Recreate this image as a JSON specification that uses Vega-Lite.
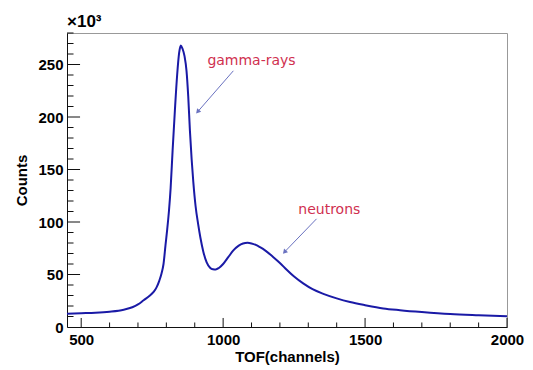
{
  "$schema": "https://vega.github.io/schema/vega-lite/v6.json",
  "width": 440,
  "height": 294,
  "autosize": {"type": "none"},
  "padding": {"left": 67, "top": 33, "right": 26, "bottom": 43},
  "background": "white",
  "title": {"text": "×10³", "anchor": "start", "frame": "group", "offset": 2, "font": "Liberation Sans", "fontSize": 17, "fontWeight": "bold", "color": "black"},
  "config": {
    "view": {"stroke": "#999999"}
  },
  "datasets": {
    "spectrum": [
      {"tof": 450, "counts": 12600}, {"tof": 500, "counts": 13100}, {"tof": 550, "counts": 13600},
      {"tof": 600, "counts": 14600}, {"tof": 650, "counts": 16500}, {"tof": 680, "counts": 18800},
      {"tof": 700, "counts": 21500}, {"tof": 720, "counts": 25500}, {"tof": 740, "counts": 29500},
      {"tof": 755, "counts": 33500}, {"tof": 765, "counts": 37500}, {"tof": 775, "counts": 44000},
      {"tof": 783, "counts": 51000}, {"tof": 790, "counts": 60000}, {"tof": 797, "counts": 78000},
      {"tof": 803, "counts": 93000}, {"tof": 809, "counts": 110000}, {"tof": 815, "counts": 132000},
      {"tof": 822, "counts": 168000}, {"tof": 830, "counts": 206000}, {"tof": 838, "counts": 240000},
      {"tof": 845, "counts": 261000}, {"tof": 851, "counts": 268000}, {"tof": 857, "counts": 265000},
      {"tof": 864, "counts": 258000}, {"tof": 871, "counts": 244000}, {"tof": 877, "counts": 220000},
      {"tof": 883, "counts": 187000}, {"tof": 889, "counts": 160000}, {"tof": 895, "counts": 138000},
      {"tof": 903, "counts": 115000}, {"tof": 912, "counts": 98000}, {"tof": 920, "counts": 85000},
      {"tof": 930, "counts": 72000}, {"tof": 942, "counts": 61500}, {"tof": 954, "counts": 56500},
      {"tof": 964, "counts": 55000}, {"tof": 974, "counts": 54800}, {"tof": 985, "counts": 56200},
      {"tof": 1000, "counts": 60000}, {"tof": 1018, "counts": 66500}, {"tof": 1036, "counts": 72900},
      {"tof": 1055, "counts": 77500}, {"tof": 1070, "counts": 79500}, {"tof": 1086, "counts": 80200},
      {"tof": 1100, "counts": 79600}, {"tof": 1115, "counts": 78200}, {"tof": 1130, "counts": 76000},
      {"tof": 1150, "counts": 72500}, {"tof": 1177, "counts": 66500}, {"tof": 1200, "counts": 61000},
      {"tof": 1224, "counts": 54500}, {"tof": 1250, "counts": 48000}, {"tof": 1282, "counts": 41500},
      {"tof": 1315, "counts": 36000}, {"tof": 1353, "counts": 31600}, {"tof": 1400, "counts": 27300},
      {"tof": 1447, "counts": 23800}, {"tof": 1500, "counts": 20800}, {"tof": 1564, "counts": 17700},
      {"tof": 1623, "counts": 16000}, {"tof": 1700, "counts": 14200}, {"tof": 1800, "counts": 12300},
      {"tof": 1900, "counts": 11200}, {"tof": 2000, "counts": 10300}
    ],
    "notes": [
      {"label": "gamma-rays", "tx": 1100, "ty": 253000, "x1": 1036, "y1": 244000, "x2": 912, "y2": 205500},
      {"label": "neutrons", "tx": 1374, "ty": 111900, "x1": 1329, "y1": 103000, "x2": 1218, "y2": 71900}
    ],
    "xMajor": [{"v": 500}, {"v": 1000}, {"v": 1500}, {"v": 2000}],
    "xMinor": [{"v": 600}, {"v": 700}, {"v": 800}, {"v": 900}, {"v": 1100}, {"v": 1200}, {"v": 1300}, {"v": 1400}, {"v": 1600}, {"v": 1700}, {"v": 1800}, {"v": 1900}],
    "yMajor": [{"v": 50000}, {"v": 100000}, {"v": 150000}, {"v": 200000}, {"v": 250000}],
    "yMinor": [{"v": 10000}, {"v": 20000}, {"v": 30000}, {"v": 40000}, {"v": 60000}, {"v": 70000}, {"v": 80000}, {"v": 90000}, {"v": 110000}, {"v": 120000}, {"v": 130000}, {"v": 140000}, {"v": 160000}, {"v": 170000}, {"v": 180000}, {"v": 190000}, {"v": 210000}, {"v": 220000}, {"v": 230000}, {"v": 240000}, {"v": 260000}, {"v": 270000}, {"v": 280000}]
  },
  "layer": [
    {
      "data": {"name": "spectrum"},
      "mark": {"type": "line", "color": "#1a1aa6", "strokeWidth": 2, "interpolate": "monotone"},
      "encoding": {
        "x": {"field": "tof", "type": "quantitative", "scale": {"domain": [450, 2000], "nice": false, "zero": false},
          "axis": {"orient": "bottom", "grid": false, "values": [500, 1000, 1500, 2000], "format": "d", "ticks": false, "domainColor": "#111111", "labelPadding": 5, "labelFlush": false, "labelFont": "Liberation Sans", "labelFontWeight": "bold", "labelFontSize": 15, "labelColor": "black", "title": "TOF(channels)", "titlePadding": 2, "titleFont": "Liberation Sans", "titleFontWeight": "bold", "titleFontSize": 15, "titleColor": "black"}},
        "y": {"field": "counts", "type": "quantitative", "scale": {"domain": [0, 280000], "nice": false, "zero": true},
          "axis": {"orient": "left", "grid": false, "values": [0, 50000, 100000, 150000, 200000, 250000], "labelExpr": "format(datum.value/1000, 'd')", "ticks": false, "domainColor": "#111111", "labelPadding": 4, "labelFont": "Liberation Sans", "labelFontWeight": "bold", "labelFontSize": 15, "labelColor": "black", "title": "Counts", "titlePadding": 8, "titleFont": "Liberation Sans", "titleFontWeight": "bold", "titleFontSize": 15, "titleColor": "black"}}
      }
    },
    {
      "data": {"name": "xMajor"},
      "mark": {"type": "rule", "color": "#111111", "strokeWidth": 1},
      "encoding": {
        "x": {"field": "v", "type": "quantitative"},
        "y": {"datum": 0, "type": "quantitative"},
        "y2": {"datum": 8600}
      }
    },
    {
      "data": {"name": "xMinor"},
      "mark": {"type": "rule", "color": "#111111", "strokeWidth": 1},
      "encoding": {
        "x": {"field": "v", "type": "quantitative"},
        "y": {"datum": 0, "type": "quantitative"},
        "y2": {"datum": 4300}
      }
    },
    {
      "data": {"name": "yMajor"},
      "mark": {"type": "rule", "color": "#111111", "strokeWidth": 1},
      "encoding": {
        "y": {"field": "v", "type": "quantitative"},
        "x": {"datum": 450, "type": "quantitative"},
        "x2": {"datum": 496}
      }
    },
    {
      "data": {"name": "yMinor"},
      "mark": {"type": "rule", "color": "#111111", "strokeWidth": 1},
      "encoding": {
        "y": {"field": "v", "type": "quantitative"},
        "x": {"datum": 450, "type": "quantitative"},
        "x2": {"datum": 473}
      }
    },
    {
      "data": {"name": "notes"},
      "mark": {"type": "rule", "color": "#6a72c0", "strokeWidth": 1},
      "encoding": {
        "x": {"field": "x1", "type": "quantitative"},
        "x2": {"field": "x2"},
        "y": {"field": "y1", "type": "quantitative"},
        "y2": {"field": "y2"}
      }
    },
    {
      "data": {"name": "notes"},
      "mark": {"type": "point", "shape": "triangle", "filled": true, "color": "#6a72c0", "size": 28, "angle": 222, "opacity": 1},
      "encoding": {
        "x": {"field": "x2", "type": "quantitative"},
        "y": {"field": "y2", "type": "quantitative"}
      }
    },
    {
      "data": {"name": "notes"},
      "mark": {"type": "text", "font": "DejaVu Sans", "fontSize": 14, "color": "#d0304f", "align": "center", "baseline": "middle"},
      "encoding": {
        "x": {"field": "tx", "type": "quantitative"},
        "y": {"field": "ty", "type": "quantitative"},
        "text": {"field": "label"}
      }
    }
  ]
}
